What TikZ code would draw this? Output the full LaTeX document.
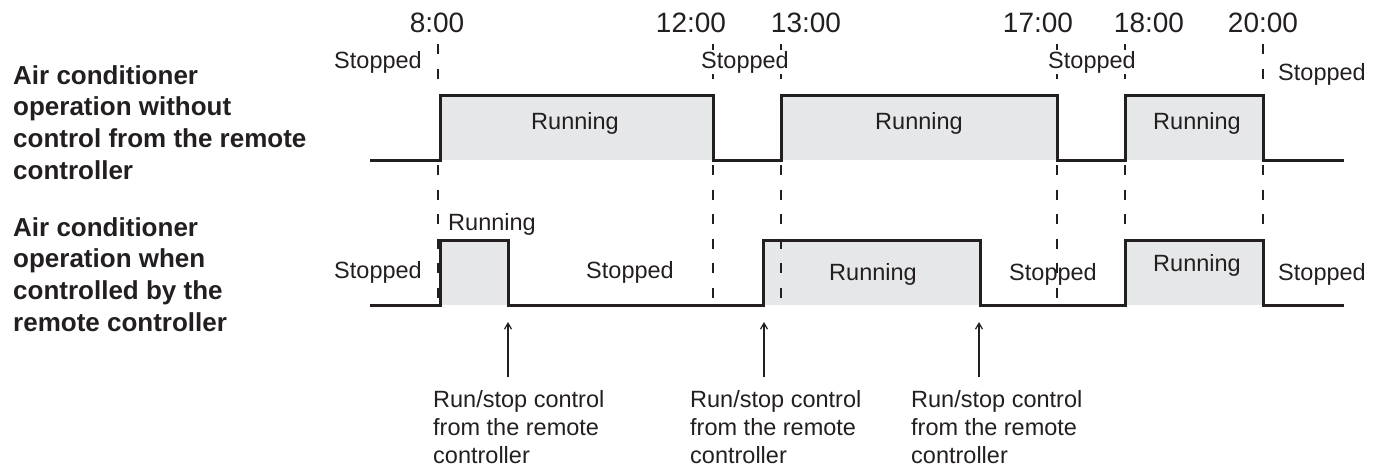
\documentclass[tikz,border=0pt]{standalone}
\usepackage{fontspec}
\setmainfont{Liberation Sans}
\usetikzlibrary{arrows.meta}
\definecolor{runbg}{HTML}{E6E7E8}
\definecolor{ink}{HTML}{231F20}
\begin{document}
\begin{tikzpicture}[x=1pt,y=-1pt,
  sig/.style={ink,line width=3pt,line join=miter},
  guide/.style={ink,line width=1.8pt,dash pattern=on 10pt off 14.5pt},
  runarea/.style={fill=runbg},
  lbl/.style={ink,font=\fontsize{23.5}{28}\selectfont,inner sep=0pt,anchor=base},
  wlbl/.style={lbl,fill=white,inner sep=1pt},
  timel/.style={ink,font=\fontsize{28}{32}\selectfont,inner sep=0pt,anchor=base},
  head/.style={ink,font=\bfseries\fontsize{26}{31.7}\selectfont,align=left,inner sep=0pt,anchor=north west},
  note/.style={ink,font=\fontsize{23.5}{28}\selectfont,align=left,inner sep=0pt,anchor=north west},
  ctrl/.style={ink,line width=1.2pt,-{Straight Barb[length=6pt,width=7pt]}}]
\useasboundingbox (0,0) rectangle (1376,467);

% row headings
\node[head] (h1) at (13,65) {Air conditioner\\operation without\\control from the remote\\controller};
\node[head] (h2) at (13,217) {Air conditioner\\operation when\\controlled by the\\remote controller};

% running areas
\fill[runarea] (440,95) rectangle (713,160);
\fill[runarea] (781,95) rectangle (1057,160);
\fill[runarea] (1125,95) rectangle (1263,160);
\fill[runarea] (440,240) rectangle (508,305);
\fill[runarea] (763,240) rectangle (980,305);
\fill[runarea] (1125,240) rectangle (1263,305);

% time guides (upper part)
\foreach \x in {438,713,781,1057,1125,1263}
  \draw[guide] (\x,44) -- (\x,80);
% time guides between the rows
\foreach \x in {438,713,781,1057}
  \draw[guide] (\x,165) -- (\x,298);
\foreach \x in {1125,1263}
  \draw[guide] (\x,165) -- (\x,240);

% signals
\draw[sig] (370,160) -- (440,160) -- (440,95) -- (713,95) -- (713,160) -- (781,160) -- (781,95) -- (1057,95) -- (1057,160) -- (1125,160) -- (1125,95) -- (1263,95) -- (1263,160) -- (1344,160);
\draw[sig] (370,305) -- (440,305) -- (440,240) -- (508,240) -- (508,305) -- (763,305) -- (763,240) -- (980,240) -- (980,305) -- (1125,305) -- (1125,240) -- (1263,240) -- (1263,305) -- (1344,305);

% times
\node[timel] (t8)  at (437,32)  {8:00};
\node[timel] (t12) at (691,32)  {12:00};
\node[timel] (t13) at (806,32)  {13:00};
\node[timel] (t17) at (1038,32) {17:00};
\node[timel] (t18) at (1149,32) {18:00};
\node[timel] (t20) at (1263,32) {20:00};

% upper row labels
\node[lbl]  (us1) at (378,68)   {Stopped};
\node[wlbl] (us2) at (745,68)   {Stopped};
\node[wlbl] (us3) at (1092,68)  {Stopped};
\node[lbl]  (us4) at (1322,80)  {Stopped};
\node[lbl]  (ur1) at (575,129)  {Running};
\node[lbl]  (ur2) at (919,129)  {Running};
\node[lbl]  (ur3) at (1197,129) {Running};

% lower row labels
\node[lbl] (ls1) at (378,278)  {Stopped};
\node[lbl] (lr1) at (492,230)  {Running};
\node[lbl] (ls2) at (630,278)  {Stopped};
\node[lbl] (lr2) at (873,280)  {Running};
\node[lbl] (ls3) at (1053,280) {Stopped};
\node[lbl] (lr3) at (1197,271) {Running};
\node[lbl] (ls4) at (1322,280) {Stopped};

% remote controller notes
\node[note] (n1) at (433,390) {Run/stop control\\from the remote\\controller};
\node[note] (n2) at (690,390) {Run/stop control\\from the remote\\controller};
\node[note] (n3) at (911,390) {Run/stop control\\from the remote\\controller};
\coordinate (a1) at (508,377); \coordinate (e1) at (508,322);
\coordinate (a2) at (764,377); \coordinate (e2) at (764,322);
\coordinate (a3) at (979,377); \coordinate (e3) at (979,322);
\draw[ctrl] (a1) -- (e1);
\draw[ctrl] (a2) -- (e2);
\draw[ctrl] (a3) -- (e3);
\end{tikzpicture}
\end{document}
